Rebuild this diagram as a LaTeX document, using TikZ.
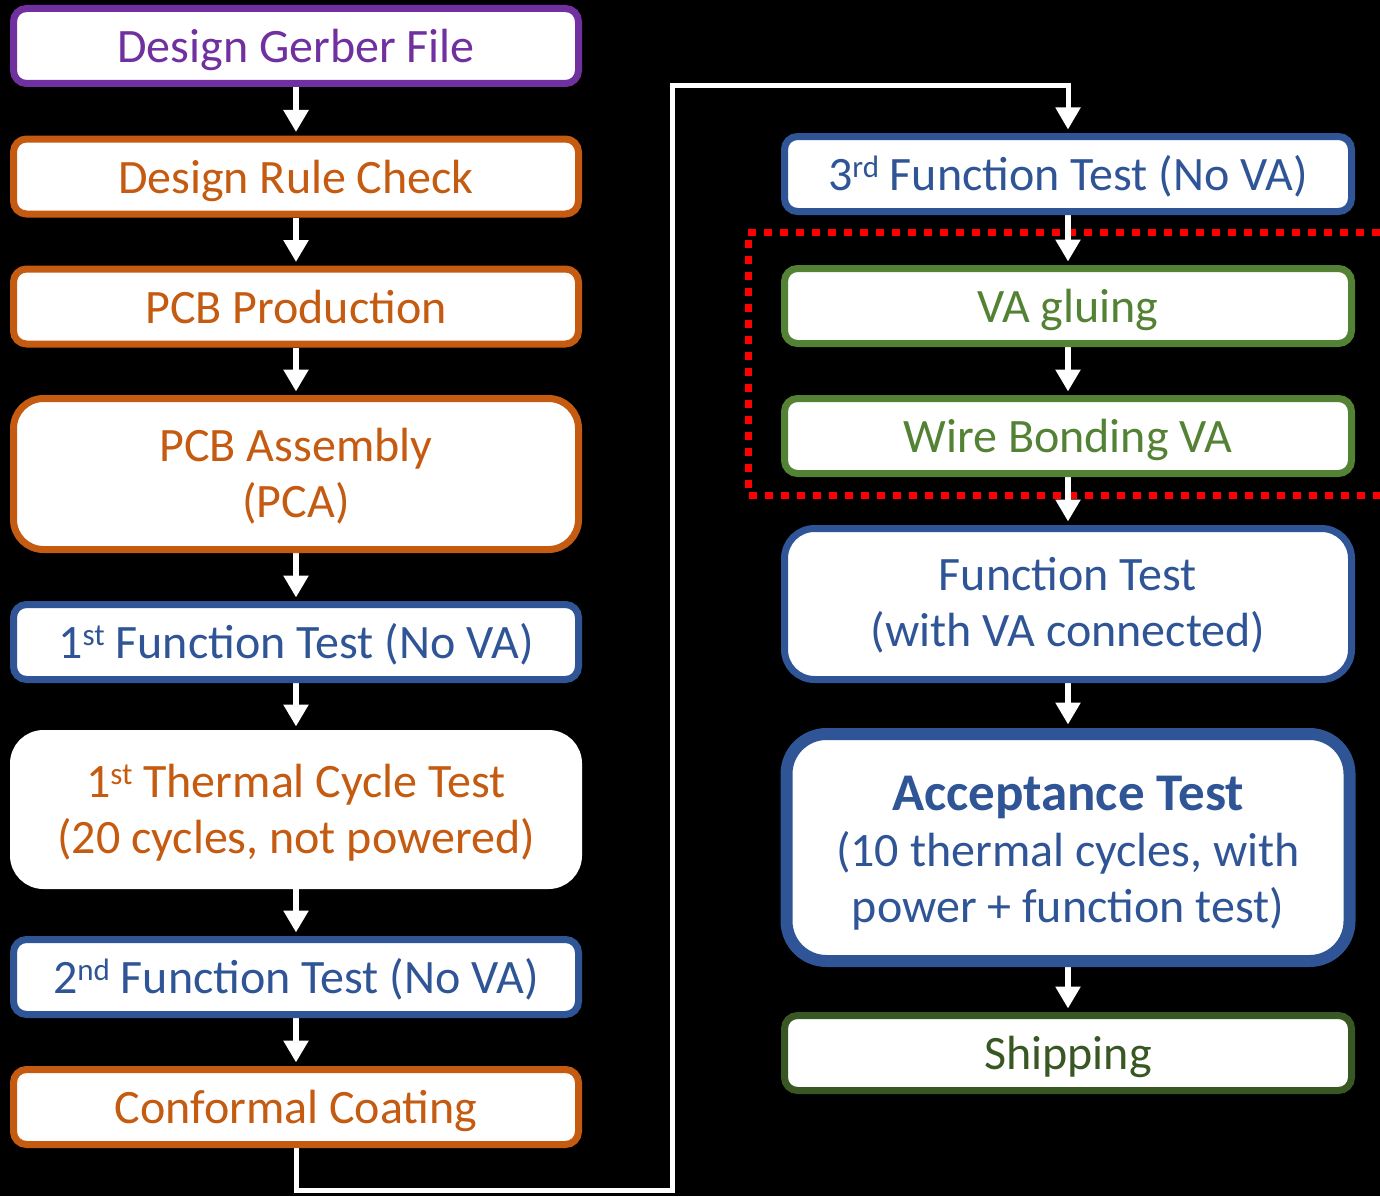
\documentclass[tikz,border=0pt]{standalone}
\usepackage{fontspec}
\setmainfont{Carlito}
\usepackage{xcolor}
\usepackage{tikz}
\usetikzlibrary{arrows.meta,positioning,calc}

\definecolor{gerberpurple}{HTML}{7030A0}
\definecolor{pcborange}{HTML}{C55A11}
\definecolor{testblue}{HTML}{2F5597}
\definecolor{vagreen}{HTML}{548235}
\definecolor{shipgreen}{HTML}{385723}

\newcommand{\ordsup}[1]{\raisebox{13pt}{\fontsize{31}{31}\selectfont #1}}

\pgfdeclarelayer{background}
\pgfsetlayers{background,main}

\tikzset{
  stepbox/.style={draw=#1, text=#1, fill=white, line width=7pt, rounded corners=13pt, minimum height=75pt, align=center, inner sep=0pt, text height=33pt, text depth=0pt},
  leftbox/.style={stepbox=#1, minimum width=565pt},
  rightbox/.style={stepbox=#1, minimum width=567pt},
  flow/.style={draw=white, line width=6pt, -{Triangle[length=22pt,width=24pt]}, shorten >=3.5pt},
}

\begin{document}
\begin{tikzpicture}[x=1pt, y=-1pt, font=\fontsize{48}{56}\selectfont]
  \useasboundingbox (0,0) rectangle (1380,1196);
  % left column
  \node[leftbox=gerberpurple] (gerber) at (296,46) {Design Gerber File};
  \node[leftbox=pcborange] (drc) at (296,176.5) {Design Rule Check};
  \node[leftbox=pcborange] (prod) at (296,306.5) {PCB Production};
  \node[leftbox=pcborange, minimum height=151pt, rounded corners=30pt, text height=86pt] (pca) at (296,474) {PCB Assembly\\(PCA)};
  \node[leftbox=testblue] (ftone) at (296,642) {1\ordsup{st} Function Test (No VA)};
  \node[leftbox=pcborange, draw=white, minimum height=152pt, rounded corners=30pt, text height=87pt] (thermal) at (296,809.5) {1\ordsup{st} Thermal Cycle Test\\(20 cycles, not powered)};
  \node[leftbox=testblue] (fttwo) at (296,977) {2\ordsup{nd} Function Test (No VA)};
  \node[leftbox=pcborange] (coat) at (296,1107) {Conformal Coating};
  % right column
  \node[rightbox=testblue] (ftthree) at (1068,174) {3\ordsup{rd} Function Test (No VA)};
  \node[rightbox=vagreen] (glue) at (1068,306) {VA gluing};
  \node[rightbox=vagreen] (bond) at (1068,436) {Wire Bonding VA};
  \node[rightbox=testblue, minimum height=151pt, rounded corners=30pt, text height=84pt] (ftva) at (1068,604) {Function Test\\(with VA connected)};
  \node[rightbox=testblue, line width=12pt, minimum width=563pt, minimum height=227pt, rounded corners=40pt, text height=149pt] (accept) at (1068,847.5) {{\fontsize{53}{56}\selectfont\bfseries Acceptance Test}\\(10 thermal cycles, with\\power + function test)};
  \node[rightbox=shipgreen] (ship) at (1068,1053) {Shipping};

  \begin{pgfonlayer}{background}
    \fill[black] (0,0) rectangle (1380,1196);
    \draw[red, line width=7pt, dash pattern=on 8pt off 8pt] (1380,232) -| (748,495) -- (1380,495);
    \foreach \a/\b in {gerber/drc, drc/prod, prod/pca, pca/ftone, ftone/thermal, thermal/fttwo, fttwo/coat, ftthree/glue, glue/bond, bond/ftva, ftva/accept, accept/ship}
      \draw[flow] (\a) -- (\b);
    \coordinate (bendlow) at (672,1190);
    \coordinate (bendhigh) at (672,86);
    \draw[flow, line width=5pt] (coat.south) |- (bendlow) -- (bendhigh) -| (ftthree.north);
  \end{pgfonlayer}
\end{tikzpicture}
\end{document}
